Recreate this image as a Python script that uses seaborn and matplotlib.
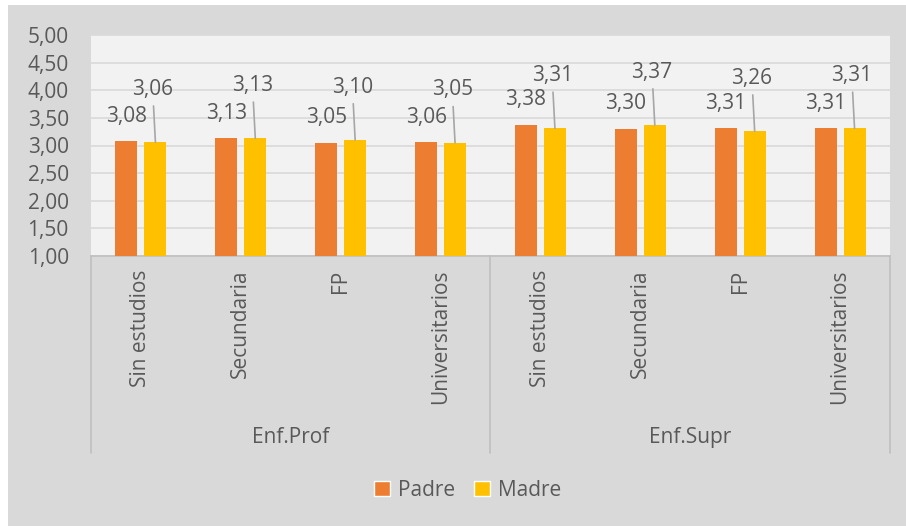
import numpy as np
import pandas as pd
import matplotlib.pyplot as plt
import matplotlib.transforms as mtransforms
from matplotlib.patches import Rectangle
import seaborn as sns

# data
groups = ["Enf.Prof", "Enf.Supr"]
levels = ["Sin estudios", "Secundaria", "FP", "Universitarios"]
padre = [3.08, 3.13, 3.05, 3.06, 3.38, 3.30, 3.31, 3.31]
madre = [3.06, 3.13, 3.10, 3.05, 3.31, 3.37, 3.26, 3.31]
series = ["Padre", "Madre"]

sns.set_style("white")
plt.rcParams['font.family'] = ['Open Sans', 'DejaVu Sans']
txt = "#595959"

cats = [g + "|" + l for g in groups for l in levels]
df = pd.DataFrame({
    "cat": cats * 2,
    "valor": padre + madre,
    "serie": [series[0]] * len(cats) + [series[1]] * len(cats),
})

fig = plt.figure(figsize=(9.06, 5.26), dpi=100, facecolor="white")
fig.add_artist(Rectangle((8 / 906, 0), 1, 1 - 5 / 526, transform=fig.transFigure,
                         facecolor="#d9d9d9", edgecolor="none", zorder=-10))
ax = fig.add_axes([91 / 906, 1 - 256 / 526, (890 - 91) / 906, (256 - 35) / 526])
ax.set_facecolor("#f2f2f2")

sns.barplot(data=df, x="cat", y="valor", hue="serie", order=cats,
            palette=["#ED7D31", "#FFC000"], saturation=1, width=0.58, gap=0.24,
            linewidth=0, ax=ax, zorder=3)
ax.get_legend().remove()

ax.set_ylim(1, 5)
ax.set_xlim(-0.5, len(cats) - 0.5)
yt = np.arange(1, 5.01, 0.5)
ax.set_yticks(yt)
ax.set_yticklabels([f"{v:.2f}".replace(".", ",") for v in yt], fontsize=15, color=txt)
ax.tick_params(axis="y", length=0, pad=16)
ax.yaxis.grid(True, color="#d9d9d9", lw=1.2, zorder=0)
ax.set_axisbelow(True)
for s in ["top", "right", "left"]:
    ax.spines[s].set_visible(False)
ax.spines["bottom"].set_color("#bfbfbf")
ax.spines["bottom"].set_linewidth(1.2)
ax.set_xlabel("")
ax.set_ylabel("")

ax.set_xticks(range(len(cats)))
ax.set_xticklabels([c.split("|")[1] for c in cats], rotation=90, fontsize=15,
                   color=txt, va="top")
ax.tick_params(axis="x", length=0, pad=10)

# group labels and separators under the axis
trans = mtransforms.blended_transform_factory(ax.transData, ax.transAxes)
h_ax = 256 - 35
for x in [-0.5, 3.5, 7.5]:
    ax.plot([x, x], [0, -(453 - 256) / h_ax], transform=trans, color="#bfbfbf",
            lw=1.2, clip_on=False)
for i, g in enumerate(groups):
    ax.text(i * 4 + 1.5, -(438 - 256) / h_ax, g, transform=trans, ha="center",
            va="center", fontsize=15, color=txt)

# value labels
for bar, v in zip(ax.containers[0], padre):
    ax.annotate(f"{v:.2f}".replace(".", ","), (bar.get_x() + bar.get_width() / 2, v),
                xytext=(0, 18), textcoords="offset points", ha="center", va="center",
                fontsize=15, color=txt)
for bar, v in zip(ax.containers[1], madre):
    ax.annotate(f"{v:.2f}".replace(".", ","), (bar.get_x() + bar.get_width() / 2, v),
                xytext=(-2, 38), textcoords="offset points", ha="center", va="center",
                fontsize=15, color=txt,
                arrowprops=dict(arrowstyle="-", color="#a6a6a6", lw=1.2,
                                shrinkA=2, shrinkB=0))

handles = [Rectangle((0, 0), 1, 1, facecolor=c) for c in ["#ED7D31", "#FFC000"]]
fig.legend(handles, series, loc="center", bbox_to_anchor=(468 / 906, 1 - 490 / 526),
           ncol=2, frameon=False, fontsize=15, labelcolor=txt, handlelength=0.75,
           handleheight=0.75, handletextpad=0.4, columnspacing=0.9)

fig.savefig("out.png", dpi=100, facecolor=fig.get_facecolor())
